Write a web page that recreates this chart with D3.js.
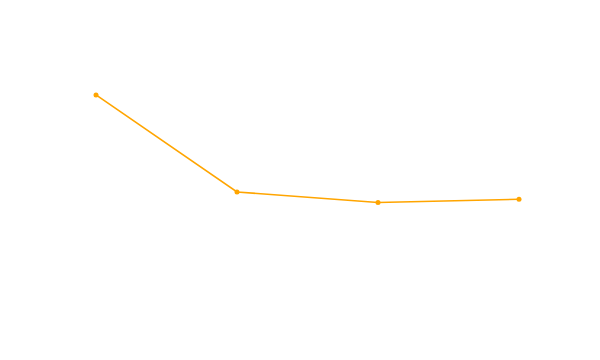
<!DOCTYPE html>
<html>
<head>
<meta charset="utf-8">
<script src="https://cdn.jsdelivr.net/npm/d3@7"></script>
<style>
  html, body { margin: 0; padding: 0; background: #fff; }
  svg { display: block; }
</style>
</head>
<body>
<svg id="chart" width="600" height="360"></svg>
<script>
const categories = ["A", "B", "C", "D"];
const values = [62.7, 36.8, 34.0, 34.85];

const svg = d3.select("#chart");
const x = d3.scalePoint().domain(categories).range([96, 519]);
const y = d3.scaleLinear().domain([0, 80]).range([330, 30]);

const data = categories.map((c, i) => ({ c, v: values[i] }));

const line = d3.line().x(d => x(d.c)).y(d => y(d.v));

svg.append("path")
  .datum(data)
  .attr("fill", "none")
  .attr("stroke", "#FFA500")
  .attr("stroke-width", 1.6)
  .attr("d", line);

svg.selectAll("circle.pt")
  .data(data)
  .join("circle")
  .attr("class", "pt")
  .attr("cx", d => x(d.c))
  .attr("cy", d => y(d.v))
  .attr("r", 2.5)
  .attr("fill", "#FFA500");
</script>
</body>
</html>
